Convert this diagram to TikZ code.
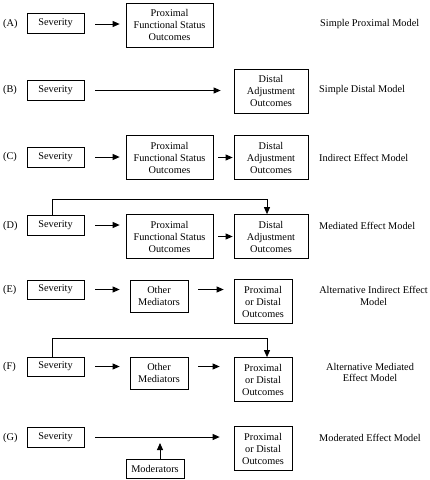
\documentclass[tikz,border=0pt]{standalone}
\usepackage{fontspec}
\setmainfont{Liberation Serif}
\usetikzlibrary{arrows.meta}
\begin{document}
\begin{tikzpicture}[x=1pt,y=-1pt,
  box/.style={draw, line width=0.7pt, inner sep=0pt, align=center, font=\fontsize{10.3}{12}\selectfont},
  sevbox/.style={box, minimum width=57pt, minimum height=20pt},
  bigbox/.style={box, minimum width=87pt, minimum height=44pt},
  distbox/.style={box, minimum width=74pt, minimum height=44pt},
  podbox/.style={box, minimum width=58pt, minimum height=44pt},
  medbox/.style={box, minimum width=58pt, minimum height=32pt},
  modbox/.style={box, minimum width=58pt, minimum height=19pt},
  lab/.style={anchor=west, inner sep=0pt, font=\fontsize{10.3}{12}\selectfont},
  ttl/.style={anchor=west, inner sep=0pt, font=\fontsize{10.3}{12}\selectfont},
  ttlc/.style={inner sep=0pt, align=center, font=\fontsize{10.3}{11.5}\selectfont},
  arr/.style={-{Triangle[length=7pt,width=6pt]}, line width=0.9pt},
]
\useasboundingbox (0,0) rectangle (430,480);

% (A)
\node[lab] (la) at (3,24) {(A)};
\node[sevbox] (sA) at (55.5,23) {Severity};
\node[bigbox] (pA) at (169.5,25) {Proximal\\Functional Status\\Outcomes};
\node[ttl] (tA) at (320,24) {Simple Proximal Model};
\draw[arr, shorten <=11pt, shorten >=6pt] ([yshift=-1pt]sA.east) -- ([yshift=-1pt]pA.west |- sA.east);

% (B)
\node[lab] (lb) at (3,90.5) {(B)};
\node[sevbox] (sB) at (55.5,90.5) {Severity};
\node[distbox] (dB) at (271,91) {Distal\\Adjustment\\Outcomes};
\node[ttl] (tB) at (319,90.5) {Simple Distal Model};
\draw[arr, shorten <=11pt, shorten >=13pt] (sB.east) -- (dB.west |- sB.east);

% (C)
\node[lab] (lc) at (3,157) {(C)};
\node[sevbox] (sC) at (55.5,157) {Severity};
\node[bigbox] (pC) at (169.5,157.5) {Proximal\\Functional Status\\Outcomes};
\node[distbox] (dC) at (271,157.5) {Distal\\Adjustment\\Outcomes};
\node[ttl] (tC) at (319,158) {Indirect Effect Model};
\draw[arr, shorten <=11pt, shorten >=6pt] (sC.east) -- (pC.west |- sC.east);
\draw[arr, shorten <=5pt, shorten >=1pt] (pC.east) -- (dC.west);

% (D)
\node[lab] (ld) at (3,226) {(D)};
\node[sevbox] (sD) at (55.5,225) {Severity};
\node[bigbox] (pD) at (169.5,236.5) {Proximal\\Functional Status\\Outcomes};
\node[distbox] (dD) at (271,236.5) {Distal\\Adjustment\\Outcomes};
\node[ttl] (tD) at (319,226) {Mediated Effect Model};
\draw[arr, shorten <=11pt, shorten >=6pt] (sD.east) -- (pD.west |- sD.east);
\draw[arr, shorten <=5pt, shorten >=1pt] (pD.east) -- (dD.west);
\draw[arr] ([xshift=-3.5pt]sD.north) -- ++(0,-15) -| ([xshift=-4pt]dD.north);

% (E)
\node[lab] (le) at (3,290) {(E)};
\node[sevbox, minimum height=19pt] (sE) at (55.5,289.5) {Severity};
\node[medbox] (mE) at (159,296) {Other\\Mediators};
\node[podbox] (pE) at (263,301.5) {Proximal\\or Distal\\Outcomes};
\node[ttlc] (tE) at (373.5,296) {Alternative Indirect Effect\\Model};
\draw[arr, shorten <=11pt, shorten >=10pt] (sE.east) -- (mE.west |- sE.east);
\draw[arr, shorten <=10pt, shorten >=10pt] (mE.east |- sE.east) -- (pE.west |- sE.east);

% (F)
\node[lab] (lf) at (3,367) {(F)};
\node[sevbox, minimum height=19pt] (sF) at (55.5,366.5) {Severity};
\node[medbox] (mF) at (159,373) {Other\\Mediators};
\node[podbox] (pF) at (263,379.5) {Proximal\\or Distal\\Outcomes};
\node[ttlc] (tF) at (370,372.5) {Alternative Mediated\\Effect Model};
\draw[arr, shorten <=11pt, shorten >=10pt] (sF.east) -- (mF.west |- sF.east);
\draw[arr, shorten <=10pt, shorten >=14pt] (mF.east |- sF.east) -- (pF.west |- sF.east);
\draw[arr] ([xshift=-3.5pt]sF.north) -- ++(0,-18) -| ([xshift=4pt]pF.north);

% (G)
\node[lab] (lg) at (3,438) {(G)};
\node[sevbox] (sG) at (55.5,437) {Severity};
\node[podbox] (pG) at (263,448.5) {Proximal\\or Distal\\Outcomes};
\node[modbox] (mG) at (155,468.5) {Moderators};
\node[ttl] (tG) at (319,438) {Moderated Effect Model};
\draw[arr, shorten <=11pt, shorten >=14pt] (sG.east) -- (pG.west |- sG.east);
\coordinate (gline) at (160,438);
\draw[arr, shorten >=5pt] ([xshift=5pt]mG.north) -- (gline);
\end{tikzpicture}
\end{document}
